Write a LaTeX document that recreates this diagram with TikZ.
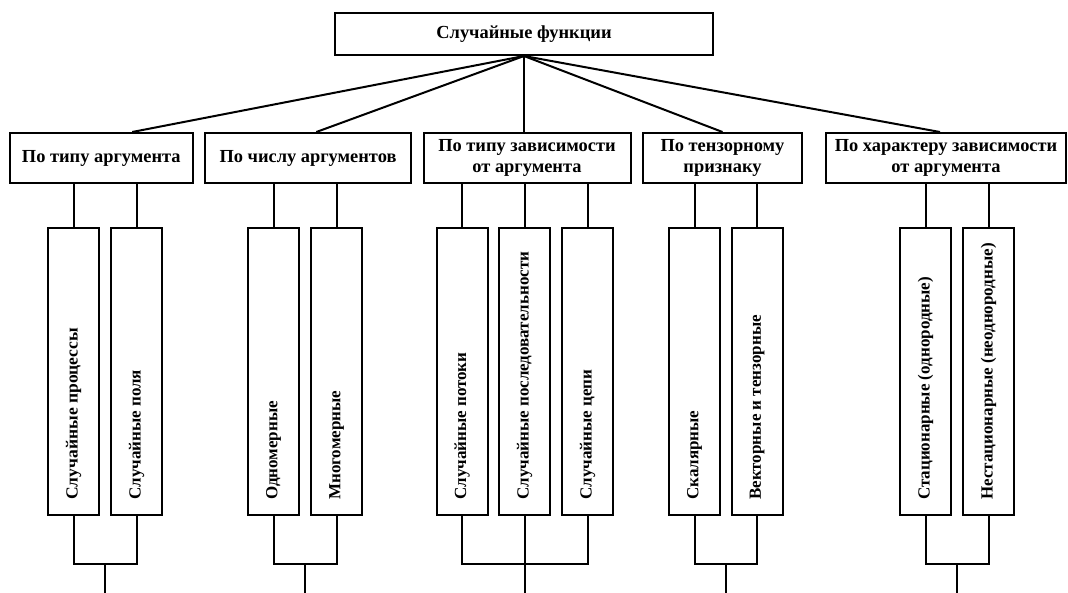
\documentclass[tikz,border=0pt]{standalone}
\usepackage{fontspec}
\setmainfont{Liberation Serif}
\usetikzlibrary{calc}
\begin{document}
\begin{tikzpicture}[x=1pt,y=-1pt,
  every node/.style={font=\fontsize{17}{20}\selectfont\bfseries},
  box/.style={draw, line width=2pt, inner sep=0pt, align=center},
  headbox/.style={box, font=\fontsize{18.4}{20.5}\selectfont\bfseries},
  catbox/.style={headbox, minimum height=50pt},
  subbox/.style={box, minimum width=51pt, minimum height=287pt},
  vlabel/.style={rotate=90, anchor=west, inner sep=0pt},
  link/.style={line width=2pt}]
\useasboundingbox (0,0) rectangle (1068,592);

% root
\node[headbox, minimum width=378pt, minimum height=42pt] (root) at (524,34) {Случайные функции};

% classification criteria
\node[catbox, minimum width=183pt] (c1) at (101.3,158) {По типу аргумента};
\node[catbox, minimum width=206pt] (c2) at (308,158) {По числу аргументов};
\node[catbox, minimum width=207pt] (c3) at (527,158) {По типу зависимости\\от аргумента};
\node[catbox, minimum width=159pt] (c4) at (722.5,158) {По тензорному\\признаку};
\node[catbox, minimum width=240pt] (c5) at (946,158) {По характеру зависимости\\от аргумента};

% entry points of the root connectors
\coordinate (t1) at ($(c1.north west)!0.667!(c1.north east)$);
\coordinate (t2) at ($(c2.north west)!0.54!(c2.north east)$);
\coordinate (t3) at (root.south |- c3.north);
\coordinate (t4) at ($(c4.north west)!0.5!(c4.north east)$);
\coordinate (t5) at ($(c5.north west)!0.475!(c5.north east)$);
\foreach \t in {t1,t2,t3,t4,t5} \draw[link] (root.south) -- (\t);

% kinds of random functions
\foreach \n/\x in {s1/73.5, s2/136.5, s3/273.5, s4/336.5, s5/462, s6/524.5,
                   s7/587.5, s8/694.5, s9/757, s10/925.5, s11/988.5}
  \node[subbox] (\n) at (\x,371.5) {};

% the first label is set a little wider than the others
\node[vlabel] (ls1) at (s1.south |- 0,500) {\resizebox{172pt}{\height}{Случайные процессы}};
\foreach \n/\txt in {s2/Случайные поля,
    s3/Одномерные, s4/Многомерные, s5/Случайные потоки,
    s6/Случайные последовательности, s7/Случайные цепи,
    s8/Скалярные, s9/Векторные и тензорные,
    s10/Стационарные (однородные), s11/Нестационарные (неоднородные)}
  \node[vlabel] (l\n) at (\n.south |- 0,500) {\txt};

% criterion -> kind
\foreach \c/\s in {c1/s1, c1/s2, c2/s3, c2/s4, c3/s5, c3/s6, c3/s7,
                   c4/s8, c4/s9, c5/s10, c5/s11}
  \draw[link] (\c.south -| \s.north) -- (\s.north);

% bottom brackets
\foreach \a/\b/\k in {s1/s2/1, s3/s4/2, s8/s9/4, s10/s11/5} {
  \draw[link] (\a.south) -- ++(0,48) -| (\b.south);
  \coordinate (j\k) at ($(\a.south)!0.5!(\b.south)+(0,48)$);
  \coordinate (e\k) at ($(j\k)+(0,40)$);
  \draw[link] (j\k) -- (e\k);
}
\draw[link] (s5.south) -- ++(0,48) -| (s7.south);
\coordinate (e3) at ($(s6.south)+(0,88)$);
\draw[link] (s6.south) -- (e3);
\end{tikzpicture}
\end{document}
